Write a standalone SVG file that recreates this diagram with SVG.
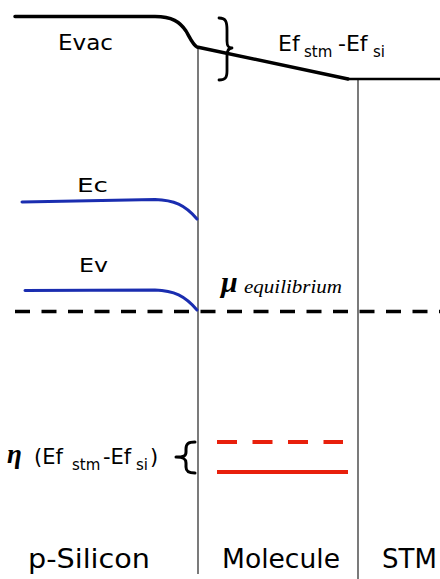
<svg xmlns="http://www.w3.org/2000/svg" width="440" height="579" viewBox="0 0 440 579">
<style>
.t{font-family:"DejaVu Sans","Noto Sans",sans-serif;fill:#000}
.sub{font-size:15px}
.ser{font-family:"Liberation Serif","DejaVu Serif",serif;font-style:italic;fill:#000}
.band{fill:none;stroke:#1a2db0;stroke-width:3;stroke-linecap:round}
.thin{fill:none;stroke:#222;stroke-width:1.2}
.red{fill:none;stroke:#e8200c;stroke-width:4}
.blk{fill:none;stroke:#000;stroke-linecap:round;stroke-linejoin:round}
</style>
<rect width="440" height="579" fill="#fff"/>
<g id="connectors">
  <line class="thin" x1="198" y1="47" x2="198" y2="574"/>
  <line class="thin" x1="358" y1="79" x2="358" y2="579"/>
</g>
<g id="evac">
  <path class="blk" stroke-width="3.5" d="M15,16.5 L155,16.5 C172,16.5 180,22 186,31 C190,38 193,45 197,47 L348,79"/>
  <path class="blk" stroke-width="2.6" d="M348,79 L440,79"/>
  <text class="t" x="58" y="50" font-size="22" textLength="55" lengthAdjust="spacingAndGlyphs">Evac</text>
</g>
<g id="brace-top">
  <path class="blk" stroke-width="2.8" d="M219,18 C226,18 227,22 227,30 L227,41 C227,46 228,48 232,48 C228,48 227,51 227,56 L227,71 C227,78 225,80 219,80"/>
  <text class="t" y="51" font-size="22"><tspan x="278">Ef</tspan><tspan class="sub" x="304" y="57">stm</tspan><tspan x="338" y="51">-Ef</tspan><tspan class="sub" x="373" y="57">si</tspan></text>
</g>
<g id="ec">
  <path class="band" d="M22,202 L155,199.5 C174,200 185,205 197,219"/>
  <text class="t" x="77" y="192" font-size="19" textLength="31" lengthAdjust="spacingAndGlyphs">Ec</text>
</g>
<g id="ev">
  <path class="band" d="M25,290.5 L155,290 C174,290.5 185,296 197,310"/>
  <text class="t" x="79" y="272" font-size="19" textLength="29" lengthAdjust="spacingAndGlyphs">Ev</text>
</g>
<g id="fermi">
  <line x1="15" y1="311.5" x2="440" y2="311.5" stroke="#000" stroke-width="3.5" stroke-dasharray="15 11.5"/>
  <text class="ser" x="221" y="292" font-size="30" font-weight="bold">μ</text>
  <text class="ser" x="244" y="293" font-size="18" textLength="98" lengthAdjust="spacingAndGlyphs">equilibrium</text>
</g>
<g id="molecule-levels">
  <line class="red" x1="217" y1="442" x2="343" y2="442" stroke-dasharray="20 15.5"/>
  <line class="red" x1="217" y1="472" x2="348" y2="472"/>
</g>
<g id="shift-label">
  <text class="ser" x="7" y="463" font-size="27" font-weight="bold">η</text>
  <text class="t" y="464" font-size="21"><tspan x="34">(Ef</tspan><tspan class="sub" x="72" y="470">stm</tspan><tspan x="103" y="464">-Ef</tspan><tspan class="sub" x="136" y="470">si</tspan><tspan x="150" y="464">)</tspan></text>
  <path class="blk" stroke-width="3" d="M195,442 C188,442 186,444 186,449 L186,452 C186,456 184,457 176,457 C184,457 186,459 186,463 L186,467 C186,471 188,473 195,473"/>
</g>
<g id="labels">
  <text class="t" x="28" y="568" font-size="26" textLength="122" lengthAdjust="spacingAndGlyphs">p-Silicon</text>
  <text class="t" x="222" y="568" font-size="26" textLength="118" lengthAdjust="spacingAndGlyphs">Molecule</text>
  <text class="t" x="382" y="568" font-size="26">STM</text>
</g>
</svg>
